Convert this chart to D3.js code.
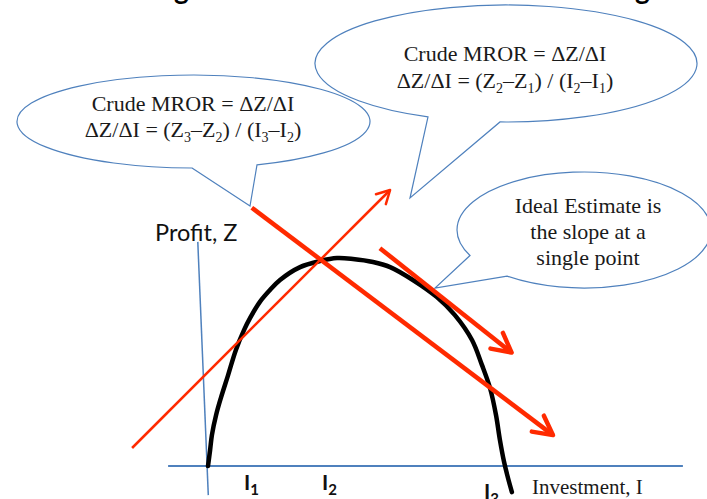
<!DOCTYPE html>
<html lang="en">
<head>
<meta charset="UTF-8">
<title>Marginal Rate of Return</title>
<script src="https://cdn.jsdelivr.net/npm/d3@7"></script>
<style>
  body { margin: 0; background: #fff; }
  svg { display: block; }
</style>
</head>
<body>
<svg></svg>
<script>
const w = 707, h = 499;

// profit curve Z(I)
const curveI = [0, 0.07, 0.13, 0.27, 0.43, 0.67, 0.93, 1.2, 1.4, 1.73, 2.07, 2.4, 3.07, 3.73, 4.3,
                4.83, 5.5, 6.07, 6.83, 7.63, 8.23, 8.8, 9.13, 9.4, 9.6, 9.73, 9.87, 10.0, 10.13];
const curveZ = [0, 0.53, 1.03, 1.7, 2.27, 3.03, 3.87, 4.53, 4.93, 5.47, 5.87, 6.2, 6.63, 6.83, 6.93,
                6.9, 6.8, 6.63, 6.2, 5.63, 5.03, 4.2, 3.37, 2.6, 1.7, 0.87, 0.13, -0.4, -0.87];

// slope arrows: crude 1->2, crude 2->3, tangent at one point
const arrowNames = ["crude12", "crude23", "tangent"];
const arrowI0 = [-2.53, 1.46, 5.73];
const arrowZ0 = [0.6, 8.61, 7.26];
const arrowI1 = [6.07, 11.5, 10.12];
const arrowZ1 = [9.2, 1.03, 3.78];

// investment axis ticks
const tickI = [1.3, 3.9, 9.3];
const tickSubs = ["1", "2", "3"];

// axis extents (data units)
const axisIRange = [-1.33, 15.83];
const axisZTop = [-0.34, 7.47];
const axisZBottom = [0.01, -0.97];

const titleText = "Marginal Rate of Return Estimating";
const bubbleText = [
    ["Crude MROR = ΔZ/ΔI", "ΔZ/ΔI = (Z_2–Z_1) / (I_2–I_1)"],
    ["Crude MROR = ΔZ/ΔI", "ΔZ/ΔI = (Z_3–Z_2) / (I_3–I_2)"],
    ["Ideal Estimate is", "the slope at a", "single point"]
];

const red = "#ff2a00";
const blue = "#4f81bd";

const svg = d3.select("svg")
    .attr("width", w)
    .attr("height", h);

const x = d3.scaleLinear().domain([0, 10]).range([208, 508]);
const y = d3.scaleLinear().domain([0, 10]).range([466, 166]);

// clipped title at the top edge
const title = svg.append("text")
    .attr("font-family", "Lato, 'Open Sans', sans-serif")
    .attr("font-weight", 700)
    .attr("font-size", 28)
    .attr("y", -1)
    .text(titleText);
{
    const node = title.node();
    const i1 = titleText.indexOf("g"), i2 = titleText.lastIndexOf("g");
    const a = node.getStartPositionOfChar(i1).x, b = node.getStartPositionOfChar(i2).x;
    const s = ((636 - 174) - (b - a)) / (i2 - i1);
    title.attr("letter-spacing", s).attr("x", 174 - a - i1 * s);
}

// speech bubbles
const bubbles = [
    {cx: 506, cy: 63.5, rx: 191, ry: 58.5, base: [428, 500], tip: [410, 198], tx: 505, ty: [61, 88]},
    {cx: 193.5, cy: 121.5, rx: 176.5, ry: 46.5, base: [192, 257], tip: [250, 206], tx: 193, ty: [111, 137]},
    {cx: 584, cy: 230, rx: 127, ry: 58, base: [470, 507], tip: [435, 288], tx: 588, ty: [213, 239, 265]}
];

function lowerY(b, px) {
    const t = (px - b.cx) / b.rx;
    return b.cy + b.ry * Math.sqrt(Math.max(0, 1 - t * t));
}

function bubblePath(b) {
    const ax = b.base[0], ay = lowerY(b, ax);
    const bx = b.base[1], by = lowerY(b, bx);
    return `M${ax},${ay}L${b.tip[0]},${b.tip[1]}L${bx},${by}` +
        `A${b.rx},${b.ry} 0 1 0 ${ax},${ay}Z`;
}

// "Z_3" -> Z with a lowered, smaller 3
function richText(sel, str) {
    const parts = str.split(/_(\d)/);
    let back = 0;
    parts.forEach((p, i) => {
        if (!p) return;
        if (i % 2 === 1) {
            sel.append("tspan").attr("dy", 5).attr("font-size", 14).text(p);
            back = -5;
        } else {
            sel.append("tspan").attr("dy", back).text(p);
            back = 0;
        }
    });
}

bubbles.forEach((b, k) => {
    svg.append("path")
        .attr("d", bubblePath(b))
        .attr("fill", "none")
        .attr("stroke", blue)
        .attr("stroke-width", 1.2);
    bubbleText[k].forEach((line, j) => {
        const t = svg.append("text")
            .attr("x", b.tx)
            .attr("y", b.ty[j])
            .attr("text-anchor", "middle")
            .attr("font-family", "'Liberation Serif', 'Times New Roman', serif")
            .attr("font-size", 22)
            .attr("fill", "#1a1a1a");
        richText(t, line);
    });
});

// axes
svg.append("line")
    .attr("x1", x(axisIRange[0])).attr("x2", x(axisIRange[1]))
    .attr("y1", y(0)).attr("y2", y(0))
    .attr("stroke", blue).attr("stroke-width", 2);

svg.append("line")
    .attr("x1", x(axisZTop[0])).attr("y1", y(axisZTop[1]))
    .attr("x2", x(axisZBottom[0])).attr("y2", y(axisZBottom[1]))
    .attr("stroke", blue).attr("stroke-width", 1.5);

svg.append("text")
    .attr("x", 155).attr("y", 241)
    .attr("font-family", "Lato, 'Open Sans', sans-serif")
    .attr("font-size", 23.5)
    .attr("fill", "#111")
    .text("Profit, Z");

svg.append("text")
    .attr("x", 532).attr("y", 494)
    .attr("font-family", "'Liberation Serif', 'Times New Roman', serif")
    .attr("font-size", 21)
    .attr("fill", "#1a1a1a")
    .text("Investment, I");

tickI.forEach((v, i) => {
    const t = svg.append("text")
        .attr("x", x(v) - 3)
        .attr("y", i === 2 ? 499 : 490)
        .attr("font-family", "Lato, 'Open Sans', sans-serif")
        .attr("font-weight", 700)
        .attr("font-size", 21)
        .attr("fill", "#111");
    t.append("tspan").text("I");
    t.append("tspan").attr("dy", 5).attr("font-size", 15).text(tickSubs[i]);
});

// profit curve
const line = d3.line()
    .x(i => x(curveI[i]))
    .y(i => y(curveZ[i]))
    .curve(d3.curveCatmullRom);

svg.append("path")
    .attr("d", line(d3.range(curveI.length)))
    .attr("fill", "none")
    .attr("stroke", "#000")
    .attr("stroke-width", 4.5)
    .attr("stroke-linecap", "round");

// arrowheads
const defs = svg.append("defs");
[["head-thin", 13, 7, 2.5], ["head-thick", 19, 10, 4.5]].forEach(([id, l, s, sw]) => {
    defs.append("marker")
        .attr("id", id)
        .attr("markerUnits", "userSpaceOnUse")
        .attr("markerWidth", 60).attr("markerHeight", 60)
        .attr("refX", 0).attr("refY", 0)
        .attr("viewBox", "-30 -30 60 60")
        .attr("orient", "auto")
        .append("path")
        .attr("d", `M${-l},${-s}L0,0L${-l},${s}`)
        .attr("fill", "none")
        .attr("stroke", red)
        .attr("stroke-width", sw)
        .attr("stroke-linejoin", "round")
        .attr("stroke-linecap", "round");
});

svg.selectAll(".slope")
    .data(arrowNames)
    .enter()
    .append("line")
    .attr("class", "slope")
    .attr("x1", (d, i) => x(arrowI0[i]))
    .attr("y1", (d, i) => y(arrowZ0[i]))
    .attr("x2", (d, i) => x(arrowI1[i]))
    .attr("y2", (d, i) => y(arrowZ1[i]))
    .attr("stroke", red)
    .attr("stroke-width", d => d === "crude12" ? 2.5 : 4.5)
    .attr("marker-end", d => d === "crude12" ? "url(#head-thin)" : "url(#head-thick)");
</script>
</body>
</html>
